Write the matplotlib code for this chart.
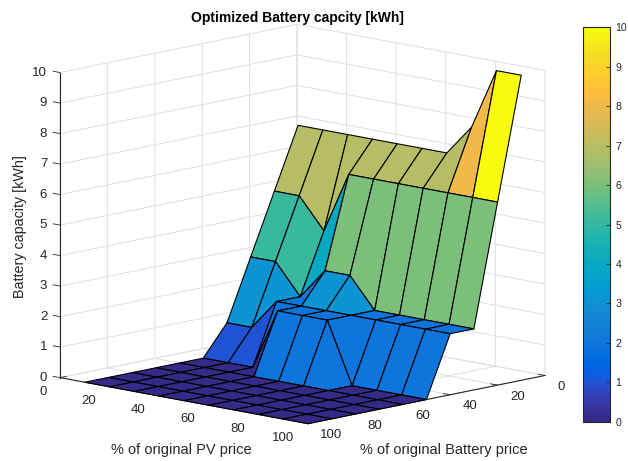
import matplotlib

matplotlib.use("Agg")
import matplotlib.pyplot as plt
import numpy as np
from matplotlib.cm import ScalarMappable
from matplotlib.colors import ListedColormap, Normalize

plt.rcParams["font.family"] = ["Liberation Sans", "DejaVu Sans"]
plt.rcParams["grid.color"] = "#dfdfdf"
plt.rcParams["grid.linewidth"] = 0.7

# Axis values
pv_price = [10, 20, 30, 40, 50, 60, 70, 80, 90, 100]
battery_price = [10, 20, 30, 40, 50, 60, 70, 80, 90, 100]

# Optimized capacity, one list per battery price
capacity_b10 = [7, 7, 7, 7, 7, 7, 7, 8, 10, 10]
capacity_b20 = [5, 5, 4, 6, 6, 6, 6, 6, 6, 6]
capacity_b30 = [3, 3, 2, 3, 3, 2, 2, 2, 2, 2]
capacity_b40 = [1, 1, 2, 2, 2, 2, 2, 2, 2, 2]
capacity_b50 = [0, 0, 0, 2, 2, 2, 0, 0, 0, 0]
capacity_b60 = [0, 0, 0, 0, 0, 0, 0, 0, 0, 0]
capacity_b70 = [0, 0, 0, 0, 0, 0, 0, 0, 0, 0]
capacity_b80 = [0, 0, 0, 0, 0, 0, 0, 0, 0, 0]
capacity_b90 = [0, 0, 0, 0, 0, 0, 0, 0, 0, 0]
capacity_b100 = [0, 0, 0, 0, 0, 0, 0, 0, 0, 0]

# MATLAB parula, 64 levels
parula = [
    [0.2081, 0.1663, 0.5292], [0.2116, 0.1898, 0.5777], [0.2123, 0.2138, 0.6270], [0.2081, 0.2386, 0.6771],
    [0.1959, 0.2645, 0.7279], [0.1707, 0.2919, 0.7792], [0.1253, 0.3242, 0.8303], [0.0591, 0.3598, 0.8683],
    [0.0117, 0.3875, 0.8820], [0.0060, 0.4086, 0.8828], [0.0165, 0.4266, 0.8786], [0.0329, 0.4430, 0.8720],
    [0.0498, 0.4586, 0.8641], [0.0629, 0.4737, 0.8554], [0.0723, 0.4887, 0.8467], [0.0779, 0.5040, 0.8384],
    [0.0793, 0.5200, 0.8312], [0.0749, 0.5375, 0.8263], [0.0641, 0.5570, 0.8240], [0.0488, 0.5772, 0.8228],
    [0.0343, 0.5966, 0.8199], [0.0265, 0.6137, 0.8135], [0.0239, 0.6287, 0.8038], [0.0231, 0.6418, 0.7913],
    [0.0228, 0.6535, 0.7768], [0.0267, 0.6642, 0.7607], [0.0384, 0.6743, 0.7436], [0.0590, 0.6838, 0.7254],
    [0.0843, 0.6928, 0.7062], [0.1133, 0.7015, 0.6859], [0.1453, 0.7098, 0.6646], [0.1801, 0.7177, 0.6424],
    [0.2178, 0.7250, 0.6193], [0.2586, 0.7317, 0.5954], [0.3022, 0.7376, 0.5712], [0.3482, 0.7424, 0.5473],
    [0.3953, 0.7459, 0.5244], [0.4420, 0.7481, 0.5033], [0.4871, 0.7491, 0.4840], [0.5300, 0.7491, 0.4661],
    [0.5709, 0.7485, 0.4494], [0.6099, 0.7473, 0.4337], [0.6473, 0.7456, 0.4188], [0.6834, 0.7435, 0.4044],
    [0.7184, 0.7411, 0.3905], [0.7525, 0.7384, 0.3768], [0.7858, 0.7356, 0.3633], [0.8185, 0.7327, 0.3498],
    [0.8507, 0.7299, 0.3360], [0.8824, 0.7274, 0.3217], [0.9139, 0.7258, 0.3063], [0.9450, 0.7261, 0.2886],
    [0.9739, 0.7314, 0.2666], [0.9938, 0.7455, 0.2403], [0.9990, 0.7653, 0.2164], [0.9955, 0.7861, 0.1967],
    [0.9880, 0.8066, 0.1794], [0.9789, 0.8271, 0.1633], [0.9697, 0.8481, 0.1475], [0.9626, 0.8705, 0.1309],
    [0.9589, 0.8949, 0.1132], [0.9598, 0.9218, 0.0948], [0.9661, 0.9514, 0.0755], [0.9763, 0.9831, 0.0538],
]

X, Y = np.meshgrid(pv_price, battery_price)
Z = np.array([capacity_b10, capacity_b20, capacity_b30, capacity_b40, capacity_b50,
              capacity_b60, capacity_b70, capacity_b80, capacity_b90, capacity_b100], dtype=float)

cmap = ListedColormap(parula)
norm = Normalize(0, 10)
text_color = "#262626"

W, H = 628, 461
fig = plt.figure(figsize=(W / 100, H / 100), dpi=100)
ax = fig.add_axes([111 / W, 45.5 / H, 372.9 / W, 372.9 / H], projection="3d")
ax.set_proj_type("ortho")
ax.view_init(elev=11.2, azim=-46.3)
ax.set_box_aspect((343, 343, 311), zoom=1.5)

# every cell takes the colour of its first corner, like MATLAB surf
surf = ax.plot_surface(X, Y, Z, rstride=1, cstride=1, facecolors=cmap(norm(Z)), shade=False,
                       edgecolor="black", linewidth=0.8, antialiased=True)
surf.set_clip_on(False)

ax.set_xlim(0, 100, view_margin=0)
ax.set_ylim(100, 0, view_margin=0)
ax.set_zlim(0, 10, view_margin=0)
ax.set_xticks([0, 20, 40, 60, 80, 100])
ax.set_yticks([0, 20, 40, 60, 80, 100])
ax.set_zticks(range(0, 11))
ax.tick_params(axis="both", labelsize=9.5, colors=text_color)
ax.tick_params(axis="x", pad=0)
ax.tick_params(axis="y", pad=-1)
ax.tick_params(axis="z", pad=-4.3)
ax.zaxis.set_ticks_position("upper")

for axis in (ax.xaxis, ax.yaxis, ax.zaxis):
    axis.pane.set_facecolor("white")
    axis.pane.set_edgecolor("white")
    axis.line.set_color(text_color)
    axis.line.set_linewidth(0.8)
    axis._axinfo["tick"]["inward_factor"] = 0.0
    axis._axinfo["tick"]["outward_factor"] = 0.34
    axis._axinfo["tick"]["linewidth"] = {True: 0.6, False: 0.6}

for label in ax.get_xticklabels():
    label.set_ha("right")
    label.set_va("bottom")
for label in ax.get_yticklabels():
    label.set_ha("left")
    label.set_va("bottom")
for label in ax.get_zticklabels():
    label.set_ha("right")
    label.set_va("center")

fig.text(181 / W, 1 - 450 / H, "% of original PV price", fontsize=10.5, color=text_color, ha="center", va="center")
fig.text(444 / W, 1 - 449.5 / H, "% of original Battery price", fontsize=10.5, color=text_color, ha="center", va="center")
fig.text(20 / W, 1 - 226.5 / H, "Battery capacity [kWh]", fontsize=10.3, color=text_color, rotation=90,
         ha="center", va="center")
ax.set_title("Optimized Battery capcity [kWh]", fontsize=10, fontweight="bold", pad=15)

cax = fig.add_axes([583.3 / W, 39.3 / H, 26.7 / W, 394.4 / H])
cbar = fig.colorbar(ScalarMappable(norm=norm, cmap=cmap), cax=cax, ticks=range(0, 11))
cbar.ax.tick_params(direction="in", length=3, width=0.6, labelsize=7.6, colors=text_color, pad=4)
cbar.outline.set_edgecolor(text_color)
cbar.outline.set_linewidth(0.8)

fig.savefig("out.png", dpi=100)
